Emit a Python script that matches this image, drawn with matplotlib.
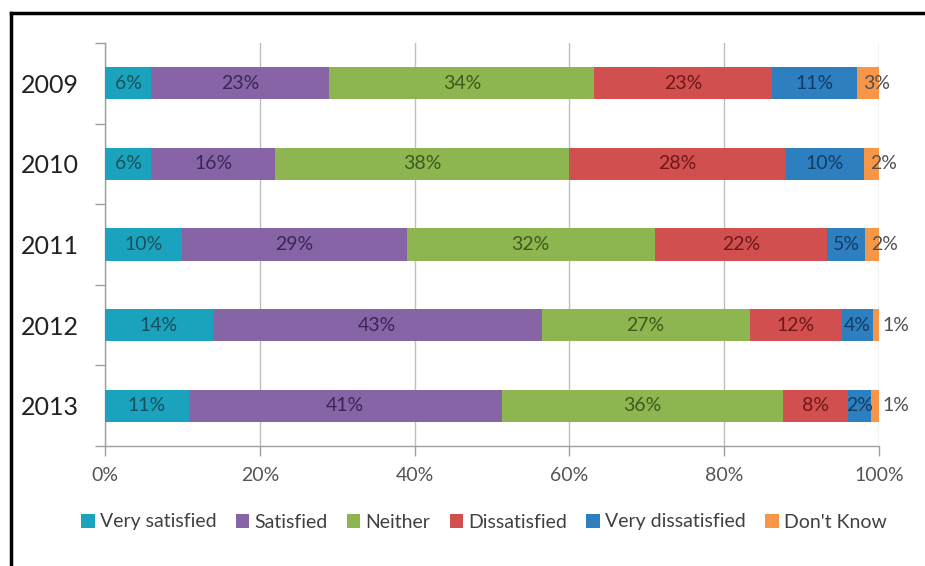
import matplotlib
matplotlib.use("Agg")
import matplotlib.pyplot as plt
from matplotlib.lines import Line2D
import numpy as np

years = ["2009", "2010", "2011", "2012", "2013"]
categories = ["Very satisfied", "Satisfied", "Neither", "Dissatisfied",
              "Very dissatisfied", "Don't Know"]
# segment widths (share of respondents, %)
very_satisfied = [6.0, 6.0, 10.0, 13.9, 10.8]
satisfied = [23.0, 16.0, 29.0, 42.5, 40.5]
neither = [34.2, 38.0, 32.0, 26.9, 36.3]
dissatisfied = [23.0, 28.0, 22.3, 11.9, 8.4]
very_dissatisfied = [11.0, 10.0, 4.9, 4.0, 3.0]
dont_know = [2.8, 2.0, 1.8, 0.8, 1.0]
# data labels as printed on the chart
label_very_satisfied = [6, 6, 10, 14, 11]
label_satisfied = [23, 16, 29, 43, 41]
label_neither = [34, 38, 32, 27, 36]
label_dissatisfied = [23, 28, 22, 12, 8]
label_very_dissatisfied = [11, 10, 5, 4, 2]
label_dont_know = [3, 2, 2, 1, 1]
xticks = [0, 20, 40, 60, 80, 100]

series = [very_satisfied, satisfied, neither, dissatisfied, very_dissatisfied, dont_know]
labels = [label_very_satisfied, label_satisfied, label_neither, label_dissatisfied,
          label_very_dissatisfied, label_dont_know]
colors = ["#1BA3BD", "#8664A6", "#8DB650", "#D24F4F", "#2E7FC0", "#F79646"]
text_colors = ["#17505e", "#3b2656", "#3d5a1c", "#6e1818", "#123c66", "#505050"]

plt.rcParams['font.family'] = ['Lato', 'DejaVu Sans']

fig = plt.figure(figsize=(9.25, 5.66), dpi=100)
ax = fig.add_axes([105/925, 1-446/566, (879-105)/925, (446-43)/566])

y = np.arange(len(years))
left = np.zeros(len(years))
for s, (vals, labs, col, tcol) in enumerate(zip(series, labels, colors, text_colors)):
    vals = np.array(vals)
    ax.barh(y, vals, left=left, height=0.4, color=col, zorder=3, label=categories[s])
    for i in range(len(years)):
        if s == len(series) - 1:
            xpos = left[i] + 0.8 if vals[i] >= 1.5 else 100.4
            ax.text(xpos, y[i], f"{labs[i]}%", ha='left', va='center',
                    fontsize=14, color=tcol, zorder=4)
        else:
            ax.text(left[i] + vals[i] / 2, y[i], f"{labs[i]}%", ha='center',
                    va='center', fontsize=14, color=tcol, zorder=4)
    left = left + vals

ax.set_xlim(0, 100)
ax.set_ylim(len(years) - 0.5, -0.5)
ax.set_xticks(xticks)
ax.set_xticklabels([f"{t}%" for t in xticks])
ax.grid(axis='x', color='#BFBFBF', linewidth=1.0, zorder=0)
ax.set_yticks(y)
ax.set_yticklabels(years)
ax.set_yticks(np.arange(-0.5, len(years)), minor=True)
ax.tick_params(axis='y', which='major', length=0, pad=19, labelsize=18, labelcolor='#222222')
ax.tick_params(axis='y', which='minor', length=7, color='#A0A0A0', width=1)
ax.tick_params(axis='x', which='major', length=7, color='#A0A0A0', width=1, pad=8,
               labelsize=14, labelcolor='#555555')
for side in ['top', 'right']:
    ax.spines[side].set_visible(False)
for side in ['left', 'bottom']:
    ax.spines[side].set_color('#A0A0A0')
    ax.spines[side].set_linewidth(1)

leg = fig.legend(loc='center', bbox_to_anchor=(0.523, 1-522/566), ncol=6, frameon=False,
                 fontsize=14, handlelength=0.7, handleheight=0.7, handletextpad=0.25,
                 columnspacing=1.0, labelcolor='#404040')

# outer frame (left and top edges visible)
fig.add_artist(Line2D([11/925, 11/925], [0, 1-13/566], color='black', linewidth=2.5,
                      solid_capstyle='projecting', transform=fig.transFigure))
fig.add_artist(Line2D([11/925, 1.0], [1-13/566, 1-13/566], color='black', linewidth=2.5,
                      solid_capstyle='projecting', transform=fig.transFigure))

fig.savefig("out.png", dpi=100)
